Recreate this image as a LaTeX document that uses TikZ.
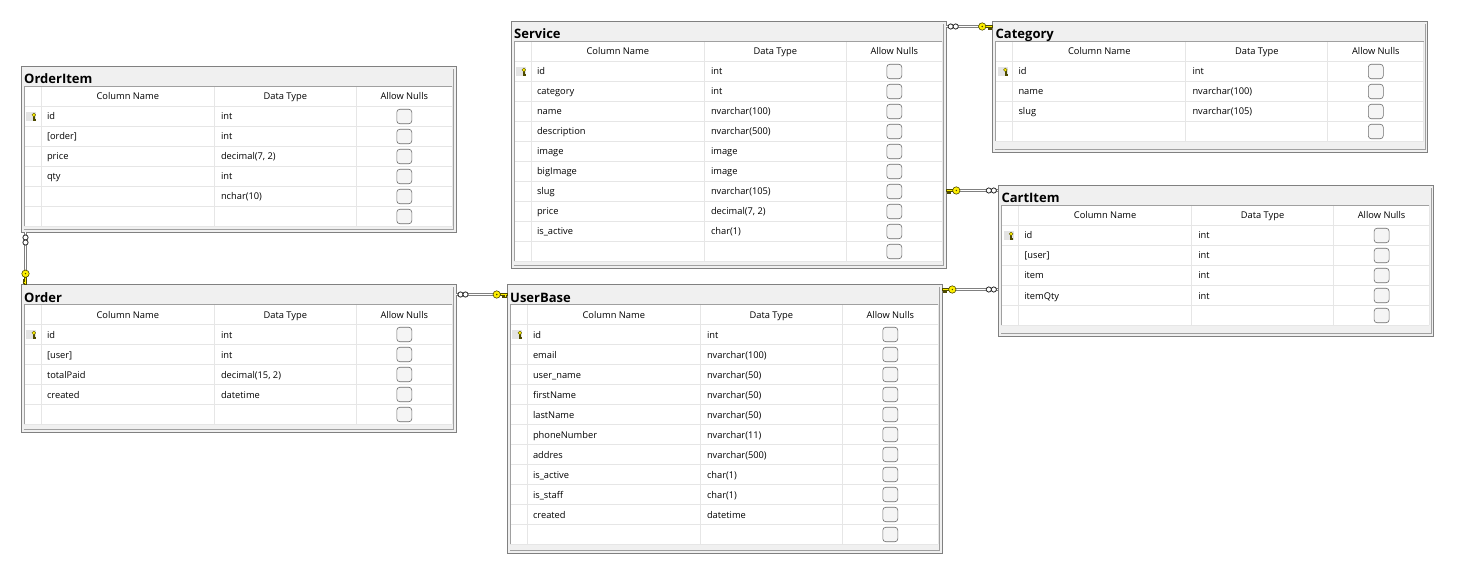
\documentclass[tikz,border=0pt]{standalone}
\usepackage{fontspec}
\setmainfont{Open Sans}
\usetikzlibrary{calc}
\definecolor{frameC}{HTML}{808080}
\definecolor{titleC}{HTML}{F0F0F0}
\definecolor{gridC}{HTML}{E6E6E6}
\definecolor{edgeC}{HTML}{A0A0A0}
\definecolor{keyY}{HTML}{FFF000}
\definecolor{keyD}{HTML}{4D4A00}
\definecolor{keyBg}{HTML}{E4E4E4}
\definecolor{chkD}{HTML}{6E6E6E}
\definecolor{chkF}{HTML}{F5F5F5}
\definecolor{relC}{HTML}{808080}
\tikzset{
 tframe/.style={draw=frameC, fill=titleC, line width=0.9pt, minimum width=435pt, inner sep=0pt, outer sep=0pt},
 ttitle/.style={font=\fontsize{13}{15}\selectfont\bfseries, inner sep=0pt, anchor=base west},
 hdr/.style={font=\fontsize{9.3}{11}\selectfont, inner sep=0pt, anchor=base},
 cell/.style={font=\fontsize{9.3}{11}\selectfont, inner sep=0pt, anchor=base west},
 chk/.style={draw=chkD, fill=chkF, line width=0.6pt, rounded corners=3pt, minimum width=15pt, minimum height=14.5pt, inner sep=0pt},
 gline/.style={draw=gridC, line width=0.7pt},
 gedge/.style={draw=edgeC, line width=0.7pt},
 rel/.style={draw=relC, line width=1pt, double=white, double distance=1.1pt},
 inf/.style={draw=black!85, fill=white, line width=0.8pt},
 pics/relkey/.style={code={
   \filldraw[fill=keyY, draw=keyD, line width=0.5pt] (-7.2,-1.1) -- (0,-1.1) -- (0,1.1) -- (-1,1.1) -- (-1,2.7) -- (-2.3,2.7) -- (-2.3,1.1) -- (-3.3,1.1) -- (-3.3,2.3) -- (-4.4,2.3) -- (-4.4,1.1) -- (-7.2,1.1) -- cycle;
   \filldraw[fill=keyY, draw=keyD, line width=0.6pt] (-10.3,0) circle (3.7);
   \fill[keyD] (-10.3,0) circle (0.8);
 }},
 pics/gridkey/.style={code={
   \fill[keyBg] (-5,-4.5) rectangle (5,4.5);
   \filldraw[fill=keyY, draw=keyD, line width=0.35pt] (2,0) rectangle (3,3.8);
   \filldraw[fill=keyY, draw=keyD, line width=0.35pt] (3,2.2) rectangle (4,3.2);
   \filldraw[fill=keyY, draw=keyD, line width=0.35pt] (2.5,-1.6) circle (1.9);
 }},
}
\newcommand\dbtable[7]{%
\begin{scope}[shift={(#2,#3)}]
\node[tframe, minimum height=#4pt, anchor=north west] (#1) at (0,0) {};
\fill[white] (3,20) rectangle (431,{40+20*#6});
\foreach \k in {0,...,#6} \draw[gline] (3,{40+20*\k}) -- (431,{40+20*\k});
\foreach \xx in {20.3,193.3,335.3,431} \draw[gline] (\xx,20) -- (\xx,{40+20*#6});
\draw[gedge] (3,{40+20*#6}) -- (3,20) -- (431,20);
\draw[gedge] (2.6,{#4-2.6}) -- (432.6,{#4-2.6}) -- (432.6,2.6);
\node[ttitle] (#1-title) at (3,18) {#5};
\node[hdr] (#1-h1) at (106.8,34) {Column Name};
\node[hdr] (#1-h2) at (264.3,34) {Data Type};
\node[hdr] (#1-h3) at (383.3,34) {Allow Nulls};
\pic (#1-key) at (10.3,50.5) {gridkey};
\foreach \cn/\ct [count=\i] in {#7} {
  \node[cell] (#1-c\i) at (25.8,{34+20*\i}) {\cn};
  \node[cell] (#1-t\i) at (199.8,{34+20*\i}) {\ct};
  \node[chk] (#1-n\i) at (383.3,{30.5+20*\i}) {};
}
\end{scope}}
\begin{document}
\begin{tikzpicture}[x=1pt,y=-1pt]
\useasboundingbox (0,0) rectangle (1460,580);
\fill[white] (0,0) rectangle (1460,580);
\dbtable{orderitem}{21}{66}{166}{OrderItem}{6}{id/int, {[order]}/int, price/{decimal(7, 2)}, qty/int, /{nchar(10)}, /}
\dbtable{order}{21}{284}{148}{Order}{5}{id/int, {[user]}/int, totalPaid/{decimal(15, 2)}, created/datetime, /}
\dbtable{service}{511}{21}{247}{Service}{10}{id/int, category/int, name/{nvarchar(100)}, description/{nvarchar(500)}, image/image, bigImage/image, slug/{nvarchar(105)}, price/{decimal(7, 2)}, is\_active/{char(1)}, /}
\dbtable{category}{992.5}{21}{131}{Category}{4}{id/int, name/{nvarchar(100)}, slug/{nvarchar(105)}, /}
\dbtable{cartitem}{998.3}{185}{151}{CartItem}{5}{id/int, {[user]}/int, item/int, itemQty/int, /}
\dbtable{userbase}{507}{284}{269}{UserBase}{11}{id/int, email/{nvarchar(100)}, user\_name/{nvarchar(50)}, firstName/{nvarchar(50)}, lastName/{nvarchar(50)}, phoneNumber/{nvarchar(11)}, addres/{nvarchar(500)}, is\_active/{char(1)}, is\_staff/{char(1)}, created/datetime, /}
% OrderItem -> Order
\draw[rel] ($(orderitem.south west)+(4.5,0)$) -- ($(order.north west)+(4.5,0)$);
\draw[inf] ($(orderitem.south west)+(4.5,5.5)$) circle (2.6);
\draw[inf] ($(orderitem.south west)+(4.5,10.5)$) circle (2.6);
\pic[rotate=-90] (k1) at ($(order.north west)+(4.5,0)$) {relkey};
% Order -> UserBase
\draw[rel] ($(order.north east)+(0,10.5)$) -- ($(userbase.north west)+(0,10.5)$);
\draw[inf] ($(order.north east)+(4.5,10.5)$) circle (2.6);
\draw[inf] ($(order.north east)+(9.5,10.5)$) circle (2.6);
\pic (k2) at ($(userbase.north west)+(0,10.5)$) {relkey};
% Service -> Category
\draw[rel] ($(service.north east)+(0,5.5)$) -- ($(category.north west)+(0,5.5)$);
\draw[inf] ($(service.north east)+(4.7,5.5)$) circle (2.6);
\draw[inf] ($(service.north east)+(9.7,5.5)$) circle (2.6);
\pic (k3) at ($(category.north west)+(0,5.5)$) {relkey};
% Service -> CartItem
\coordinate (k4) at ($(cartitem.north west)+(0,5.5)$);
\draw[rel] (service.east |- k4) -- (k4);
\draw[inf] ($(k4)+(-4.5,0)$) circle (2.6);
\draw[inf] ($(k4)+(-9.5,0)$) circle (2.6);
\pic[xscale=-1] (k4key) at (service.east |- k4) {relkey};
% UserBase -> CartItem
\coordinate (k5) at ($(userbase.north east)+(0,5.5)$);
\draw[rel] (k5) -- (cartitem.west |- k5);
\draw[inf] ($(cartitem.west |- k5)+(-4.5,0)$) circle (2.6);
\draw[inf] ($(cartitem.west |- k5)+(-9.5,0)$) circle (2.6);
\pic[xscale=-1] (k5key) at (k5) {relkey};
\end{tikzpicture}
\end{document}
